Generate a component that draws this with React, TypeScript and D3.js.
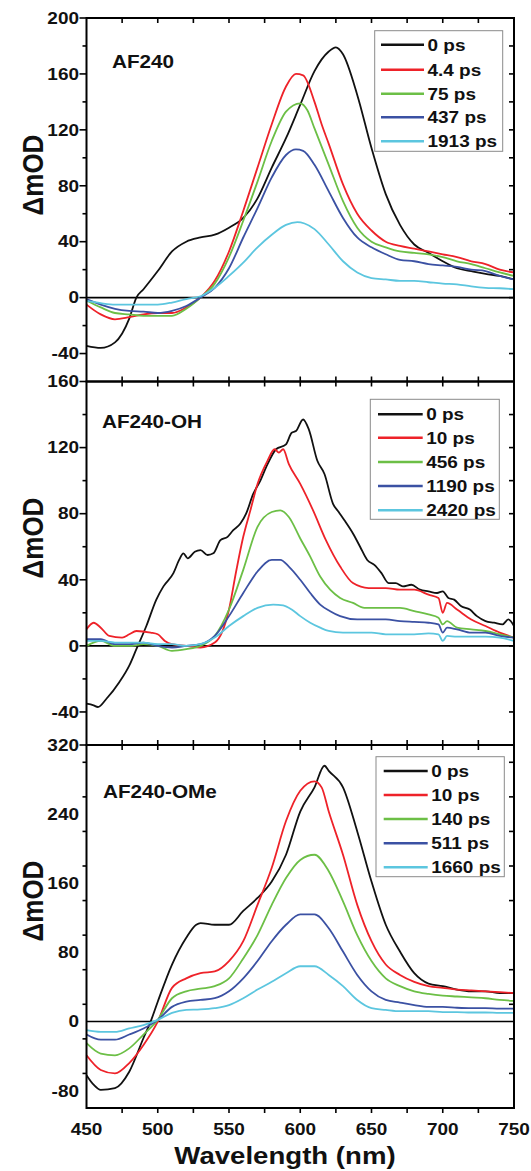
import { useEffect, useRef } from "react";
import * as d3 from "d3";

// ---- data (wavelength nm, mOD) ----
const seriesColors = ["#111111", "#ee2229", "#6cbf46", "#3b51a3", "#5cc6df"];
const panelNames = ["AF240", "AF240-OH", "AF240-OMe"];
const xTickLabels = [450, 500, 550, 600, 650, 700, 750];

const legendP1 = ["0 ps", "4.4 ps", "75 ps", "437 ps", "1913 ps"];
const legendP2 = ["0 ps", "10 ps", "456 ps", "1190 ps", "2420 ps"];
const legendP3 = ["0 ps", "10 ps", "140 ps", "511 ps", "1660 ps"];

const yTicksP1 = [-40, 0, 40, 80, 120, 160, 200];
const yTicksP2 = [-40, 0, 40, 80, 120, 160];
const yTicksP3 = [-80, 0, 80, 160, 240, 320];

// AF240
const p1_0ps = [[450,-34.5],[460,-36],[470,-32],[480,-15],[485,0],[490,6],[500,19],[510,33],[520,40],[530,43],[540,45],[550,50],[560,57],[570,71],[580,93],[590,114],[600,138],[610,162],[620,176],[625,179],[630,174],[640,145],[650,107],[660,74],[670,52],[680,38],[690,32],[700,26],[710,21],[720,19],[730,17],[740,15.5],[750,13]];
const p1_4ps = [[450,-5],[460,-12],[470,-15.5],[480,-14],[490,-12],[500,-11],[510,-11],[520,-7],[530,0],[540,12],[550,33],[560,62],[570,93],[580,124],[590,151],[597,160],[602,159],[610,140],[615,124],[620,110],[630,81],[640,60],[650,48],[660,40],[670,37],[680,35],[690,33],[700,31],[710,29],[720,26],[730,24],[740,20],[750,18]];
const p1_75ps = [[450,-2],[460,-7],[470,-11],[480,-12],[490,-13],[500,-13],[510,-13],[520,-8],[530,0],[540,10],[550,29],[560,55],[570,83],[580,112],[590,133],[600,139],[605,134],[610,121],[620,95],[630,69],[640,50],[650,40],[660,36],[670,33],[680,32],[690,31],[700,29],[710,26],[720,24],[730,21],[740,18],[750,15.5]];
const p1_437ps = [[450,-1],[460,-5],[470,-8],[480,-9.5],[490,-10],[500,-11],[510,-9.5],[520,-6],[530,0],[540,7],[550,21],[560,43],[570,64],[580,86],[590,102],[597,106],[602,105],[610,95],[620,76],[630,57],[640,43],[650,36],[660,31],[670,27],[680,26],[690,24],[700,23],[710,22],[720,20],[730,19],[740,15.5],[750,13]];
const p1_1913ps = [[450,-2.4],[460,-4],[470,-5],[480,-5],[490,-5],[500,-5],[510,-3.5],[520,-1],[530,1],[540,7],[550,15.5],[560,25],[570,36],[580,45],[590,52],[598,54],[603,53],[610,49],[620,38],[630,26],[640,18],[650,14],[660,13],[670,12],[680,12],[690,11],[700,10],[710,9.5],[720,8],[730,7],[740,6.7],[750,6]];

// AF240-OH
const p2_0ps = [[450,-35],[455,-36],[458,-37],[464,-32],[473,-22],[480,-12],[485,-2],[492,12],[499,28],[504,36],[511,44],[515,52],[518,56],[521,53],[526,57],[530,58],[535,55],[539,56],[544,64],[549,66],[553,70],[558,74],[562,80],[567,92],[572,100],[576,108],[583,119],[590,122],[594,129],[597,130],[602,137],[606,131],[612,112],[617,104],[623,86],[627,81],[631,76],[637,68],[642,60],[647,52],[652,49],[657,44],[662,38],[667,38],[672,36],[678,37],[684,34],[690,33],[696,32],[700,33],[704,29],[708,28],[713,24],[719,22],[724,18],[730,15],[736,14],[742,13],[746,16],[750,12]];
const p2_10ps = [[450,10],[455,14],[460,11],[466,6],[475,5],[480,7],[485,9],[495,8],[500,7],[505,3],[510,1],[520,0],[530,-1],[540,2],[545,8],[550,22],[555,45],[560,66],[565,82],[570,98],[577,112],[582,119],[585,117],[588,119],[592,110],[600,98],[609,82],[618,64],[628,48],[637,38],[648,35],[660,35],[670,34],[680,34],[690,31],[697,29],[700,20],[703,26],[710,22],[720,16],[730,12],[740,8],[750,5]];
const p2_456ps = [[450,0],[460,3],[470,0],[480,0],[490,1],[500,0],[510,-3],[520,-2],[530,0],[540,6],[550,22],[560,46],[570,72],[580,81],[586,82],[592,78],[600,65],[607,54],[614,42],[621,34],[628,29],[637,26],[645,23],[660,23],[670,23],[680,21],[690,19],[697,17],[700,13],[703,15],[710,11],[720,10],[730,9],[740,7],[750,5]];
const p2_1190ps = [[450,4],[460,4],[470,1],[480,1],[490,2],[500,0],[510,-1],[520,0],[530,1],[540,6],[550,18],[560,32],[570,45],[580,52],[586,52],[592,48],[600,40],[607,32],[614,25],[621,21],[628,18],[640,16],[650,16],[660,16],[670,15],[680,14.5],[690,14],[697,13],[700,8],[703,11],[710,10],[720,8],[730,8],[740,6],[750,5]];
const p2_2420ps = [[450,3],[460,3],[470,2],[480,2],[490,2],[500,1],[510,1],[520,0],[530,1],[540,5],[550,12],[560,18],[570,23],[581,25],[588,24.5],[594,22],[600,18],[607,14],[614,11],[620,9],[630,8],[640,8],[650,8],[660,7],[670,7],[680,7],[690,7.5],[697,7],[700,3],[703,6],[710,5.6],[720,5.6],[730,5.6],[740,5],[750,3]];

// AF240-OMe
const p3_0ps = [[450,-62],[455,-73],[460,-79],[470,-77],[480,-58],[490,-19],[495,0],[500,23],[510,66],[520,97],[527,112],[530,114],[540,112],[550,112],[560,128],[570,143],[580,162],[590,193],[600,243],[610,271],[617,296],[620,290],[630,271],[640,220],[650,162],[660,112],[670,81],[680,56],[690,44],[700,41],[710,37],[720,35],[730,35],[740,33],[750,33]];
const p3_10ps = [[450,-39],[460,-56],[470,-60],[480,-48],[490,-27],[500,0],[510,39],[520,50],[530,56],[540,58],[550,70],[560,93],[570,135],[580,178],[590,232],[600,267],[610,278],[615,271],[620,243],[630,193],[640,135],[650,93],[660,66],[670,54],[680,46],[690,41],[700,39],[710,37],[720,36],[730,35],[740,34],[750,33]];
const p3_140ps = [[450,-25],[460,-37],[470,-39],[480,-31],[490,-15],[500,2],[510,27],[520,35],[530,38],[540,41],[550,50],[560,73],[570,100],[580,135],[590,166],[600,187],[610,193],[620,174],[630,139],[640,100],[650,70],[660,50],[670,41],[680,35],[690,32],[700,30],[710,29],[720,28],[730,27],[740,25],[750,24]];
const p3_511ps = [[450,-15],[460,-21],[470,-21],[480,-15],[490,-8],[500,2],[510,17],[520,23],[530,25],[540,27],[550,35],[560,50],[570,70],[580,93],[590,112],[600,124],[610,124],[620,108],[630,81],[640,54],[650,35],[660,25],[670,22],[680,19],[690,17],[700,17],[710,16],[720,15.5],[730,15.5],[740,15],[750,15]];
const p3_1660ps = [[450,-10],[460,-12],[470,-12],[480,-8],[490,-4],[500,2],[510,10],[520,13.5],[530,14],[540,15.5],[550,19],[560,27],[570,37],[580,46],[590,56],[600,64],[610,64],[620,54],[630,41],[640,25],[650,15.5],[660,13.5],[670,12],[680,12],[690,12],[700,11],[710,11],[720,10.5],[730,10.5],[740,10],[750,10]];

const W = 531;
const H = 1171;
const SX = 1.15; // the original lettering is slightly stretched horizontally
const FONT = "'Liberation Sans', Arial, sans-serif";

export default function App() {
  const ref = useRef(null);

  useEffect(() => {
    const svg = d3.select(ref.current);
    svg.selectAll("*").remove();

    const x = d3.scaleLinear().domain([450, 750]).range([86.5, 514]);

    const panels = [
      { name: panelNames[0], series: [p1_0ps, p1_4ps, p1_75ps, p1_437ps, p1_1913ps], legend: legendP1,
        domain: [-60, 200], range: [381.5, 18], ticks: yTicksP1, minorStep: 20,
        labelY: 68, labelX: 112, legendBox: [374.7, 30.7, 502.7, 151.3], rows: [44.7, 69.7, 93.7, 117.3, 141.3], line: [381, 424], axisLabelY: 175 },
      { name: panelNames[1], series: [p2_0ps, p2_10ps, p2_456ps, p2_1190ps, p2_2420ps], legend: legendP2,
        domain: [-60, 160], range: [745, 381.5], ticks: yTicksP2, minorStep: 20,
        labelY: 428, labelX: 102, legendBox: [370.3, 399.3, 499.3, 519.3], rows: [414.3, 437.7, 462, 486, 510.3], line: [378, 422.7], axisLabelY: 538 },
      { name: panelNames[2], series: [p3_0ps, p3_10ps, p3_140ps, p3_511ps, p3_1660ps], legend: legendP3,
        domain: [-100, 320], range: [1108, 745], ticks: yTicksP3, minorStep: 40,
        labelY: 798, labelX: 103, legendBox: [376, 756.7, 504.3, 876.7], rows: [771, 795, 819, 843.3, 867.3], line: [383.7, 427.7], axisLabelY: 901 },
    ];

    function text(g, px, py, str, size, anchor, rotate = false) {
      return g
        .append("text")
        .attr("transform", `translate(${px},${py}) scale(${SX},1)` + (rotate ? " rotate(-90)" : ""))
        .attr("text-anchor", anchor)
        .attr("font-family", FONT)
        .attr("font-weight", "bold")
        .attr("font-size", size)
        .attr("fill", "#111")
        .text(str);
    }

    const minorX = d3.range(475, 750, 25);

    panels.forEach((p, pi) => {
      const y = d3.scaleLinear().domain(p.domain).range(p.range);
      const g = svg.append("g");
      const [x0, x1] = x.range();
      const yTop = p.range[1];
      const yBot = p.range[0];
      const last = pi === panels.length - 1;

      // zero line
      g.append("line")
        .attr("x1", x0).attr("x2", x1)
        .attr("y1", y(0)).attr("y2", y(0))
        .attr("stroke", "#000").attr("stroke-width", 1.6);

      // spectra
      const line = d3.line()
        .x((d) => x(d[0]))
        .y((d) => y(d[1]))
        .curve(d3.curveMonotoneX);
      p.series.forEach((s, i) => {
        g.append("path")
          .datum(s)
          .attr("d", line)
          .attr("fill", "none")
          .attr("stroke", seriesColors[i])
          .attr("stroke-width", 1.8)
          .attr("stroke-linejoin", "round");
      });

      // ticks: left (outward), right (inward), top (inward), bottom
      const minorY = d3.range(p.domain[0], p.domain[1] + 0.1, p.minorStep).filter((v) => v > p.domain[0] && v < p.domain[1]);
      minorY.forEach((v) => {
        const major = p.ticks.includes(v);
        g.append("line").attr("x1", x0 - (major ? 7 : 4)).attr("x2", x0)
          .attr("y1", y(v)).attr("y2", y(v)).attr("stroke", "#000").attr("stroke-width", 1.6);
        g.append("line").attr("x1", x1 - 5).attr("x2", x1)
          .attr("y1", y(v)).attr("y2", y(v)).attr("stroke", "#000").attr("stroke-width", 1.6);
      });
      p.ticks.forEach((v) => {
        if (v === p.domain[1]) {
          g.append("line").attr("x1", x0 - 7).attr("x2", x0)
            .attr("y1", y(v)).attr("y2", y(v)).attr("stroke", "#000").attr("stroke-width", 1.6);
        }
        text(g, 79, y(v) + 5.8, String(v), 16.5, "end");
      });
      minorX.forEach((v) => {
        g.append("line").attr("x1", x(v)).attr("x2", x(v))
          .attr("y1", yTop).attr("y2", yTop + 5).attr("stroke", "#000").attr("stroke-width", 1.6);
        g.append("line").attr("x1", x(v)).attr("x2", x(v))
          .attr("y1", yBot).attr("y2", last ? yBot + 5 : yBot - 5).attr("stroke", "#000").attr("stroke-width", 1.6);
      });

      // frame
      g.append("rect")
        .attr("x", x0).attr("y", yTop)
        .attr("width", x1 - x0).attr("height", yBot - yTop)
        .attr("fill", "none").attr("stroke", "#000").attr("stroke-width", 2);

      // panel name
      text(g, p.labelX, p.labelY, p.name, 18, "start");

      // legend
      const [lx0, ly0, lx1, ly1] = p.legendBox;
      g.append("rect")
        .attr("x", lx0).attr("y", ly0)
        .attr("width", lx1 - lx0).attr("height", ly1 - ly0)
        .attr("fill", "#fff").attr("stroke", "#8a8a8a").attr("stroke-width", 1);
      p.legend.forEach((lab, i) => {
        g.append("line")
          .attr("x1", p.line[0]).attr("x2", p.line[1])
          .attr("y1", p.rows[i]).attr("y2", p.rows[i])
          .attr("stroke", seriesColors[i]).attr("stroke-width", 2.5);
        text(g, p.line[1] + 3.5, p.rows[i] + 5.8, lab, 16.5, "start");
      });

      // y title
      text(g, 43, p.axisLabelY, "ΔmOD", 26, "middle", true);
    });

    // x axis labels (bottom panel only)
    xTickLabels.forEach((v) => {
      text(svg, x(v), 1135, String(v), 16.5, "middle");
    });
    text(svg, 285, 1164, "Wavelength (nm)", 24, "middle");
  }, []);

  return (
    <svg
      ref={ref}
      width={W}
      height={H}
      style={{ position: "absolute", left: 0, top: 0, background: "#fff" }}
    />
  );
}
